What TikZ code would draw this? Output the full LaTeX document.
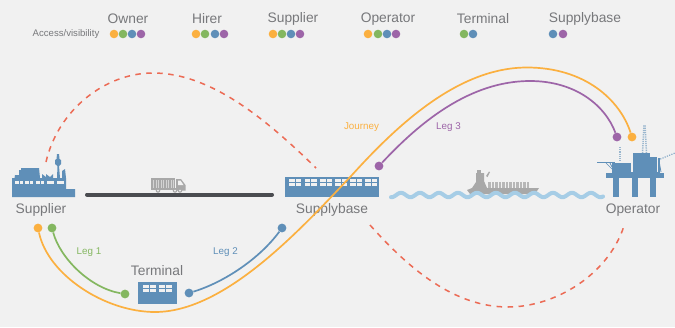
\documentclass[tikz,border=0pt]{standalone}
\usepackage{fontspec}
\setmainfont{Liberation Sans}
\definecolor{bgc}{HTML}{F1F1F1}
\definecolor{oy}{HTML}{FBB040}
\definecolor{gr}{HTML}{84B760}
\definecolor{bl}{HTML}{5F8FB8}
\definecolor{pu}{HTML}{9D65A8}
\definecolor{rd}{HTML}{EC6B55}
\definecolor{txtc}{HTML}{77787B}
\definecolor{road}{HTML}{4A4C50}
\definecolor{shipc}{HTML}{A8A8A8}
\definecolor{wave}{HTML}{A6CDE6}
\begin{document}
\begin{tikzpicture}[x=1pt,y=-1pt,
  dotn/.style={circle,fill=#1,inner sep=0pt,minimum size=8.6pt},
  enddot/.style={circle,fill=#1,inner sep=0pt,minimum size=8.8pt},
  head/.style={text=txtc,font=\fontsize{13.8}{15}\selectfont,inner sep=0pt},
  legl/.style={font=\fontsize{9.8}{11}\selectfont,inner sep=0pt},
  curve/.style={line width=1.7pt},
  reddash/.style={rd,line width=1.5pt,dash pattern=on 5.5pt off 5.5pt},
  iconb/.style={fill=bl,draw=none},
  win/.style={fill=bgc,draw=none},
  greyfill/.style={fill=shipc,draw=none}]
\useasboundingbox (0,0) rectangle (675,327);
\fill[bgc] (0,0) rectangle (675,327);

% legend
\node[head] (hOwner) at (128,19) {Owner};
\node[head] (hHirer) at (207,19) {Hirer};
\node[head] (hSupplier) at (293,19) {Supplier};
\node[head] (hOperator) at (388,19) {Operator};
\node[head] (hTerminal) at (483,19) {Terminal};
\node[head] (hSupplybase) at (585,19) {Supplybase};
\node[text=txtc,font=\fontsize{9.6}{11}\selectfont,inner sep=0pt] (access) at (66,34.5) {Access/visibility};
\foreach \n/\x/\c in {a1/114/oy,a2/123/gr,a3/132/bl,a4/141/pu,
  b1/196/oy,b2/205/gr,b3/215/bl,b4/224/pu,
  c1/273/oy,c2/282/gr,c3/291/bl,c4/300/pu,
  d1/368/oy,d2/378/gr,d3/387/bl,d4/396/pu,
  e1/464/gr,e2/473/bl,
  f1/553/bl,f2/563/pu}
  \node[dotn=\c] (\n) at (\x,34) {};

% road
\coordinate (roadL) at (87,194.5);
\coordinate (roadR) at (272,194.5);
\draw[road,line width=4pt,line cap=round] (roadL) -- (roadR);

% truck
\fill[greyfill] (151,178) rectangle (175,188.5);
\foreach \x in {153,155.5,...,173} \fill[bgc!60!shipc] (\x,179.5) rectangle (\x+1,187.5);
\fill[greyfill] (176,179) -- (181,179) -- (185.5,185) -- (185.5,190.5) -- (176,190.5) -- cycle;
\fill[bgc] (178,180.5) -- (180.5,180.5) -- (183.5,185) -- (178,185) -- cycle;
\fill[greyfill] (151,188) rectangle (176,190);
\foreach \x in {158,175,180} {\fill[shipc] (\x,190.5) circle (2.3pt); \fill[bgc] (\x,190.5) circle (1pt);}

% ship
\fill[greyfill] (467,190) -- (472,188) -- (476,182) -- (476,173) -- (484,173) -- (484,181) -- (487,188) -- (539,188) -- (535,194) -- (470,194) -- cycle;
\fill[greyfill] (477,169.5) rectangle (481,174);
\fill[greyfill] (486,176) -- (489,171.5) -- (490,172) -- (487.5,177) -- cycle;
\foreach \x in {488,491.5,...,527} \fill[shipc!80!bgc] (\x,181.5) rectangle (\x+2.8,188);

% waves
\draw[wave,line width=4pt,line cap=round] plot[domain=391:603,samples=220] (\x,{195-2.2*cos(18.95*(\x-420))});

% Supplier factory
\fill[iconb] (12,178) -- (14.5,178) -- (15,175) -- (19,175) -- (19,170) -- (21,170) -- (21,168) -- (39,168) -- (40,178)
  -- (42,178) -- (42,174) -- (46,177) -- (46,174) -- (50,177) -- (53,174) -- (53,178) -- (57,178) -- (57.5,166) -- (55,164) -- (55,160) -- (56.5,159) -- (57,154) -- (59,154) -- (59.5,159) -- (61,160) -- (61,164) -- (59,166) -- (60,178)
  -- (62,178) -- (62,171) -- (65,169) -- (66,178) -- (66,189) -- (75,189) -- (75,197) -- (12,197) -- cycle;
\foreach \a/\b in {15/18.7,19.5/23,25/28.7,29.5/33,36/39.7,40.5/44,47/54,57/64}
  \fill[win] (\a,180.7) rectangle (\b,184.2);
\node[head] (supplier) at (41,210) {Supplier};

% Supplybase
\fill[iconb] (284.5,176.5) rectangle (379,196.5);
\foreach \x in {289,304.5,320,335,350,365} {
  \fill[win] (\x,179) rectangle (\x+5.5,182);
  \fill[win] (\x+6.5,179) rectangle (\x+12,182);
  \fill[win] (\x,183) rectangle (\x+5.5,186);
  \fill[win] (\x+6.5,183) rectangle (\x+12,186);
}
\node[head] (supplybase) at (332,210) {Supplybase};

% Terminal
\fill[iconb] (138,282) rectangle (177,304);
\foreach \x in {143,159} {
  \fill[win] (\x,285) rectangle (\x+5.7,288);
  \fill[win] (\x+7,285) rectangle (\x+12.7,288);
  \fill[win] (\x,289) rectangle (\x+5.7,292);
  \fill[win] (\x+7,289) rectangle (\x+12.7,292);
}
\node[head] (terminal) at (157,271) {Terminal};

% Rig
\fill[iconb] (606,173) rectangle (664,178);
\foreach \x in {613,632,650} \fill[iconb] (\x,178) rectangle (\x+6,197);
\fill[iconb] (612,163) rectangle (631,173);
\fill[iconb] (633,153) rectangle (650,158);
\fill[iconb] (633,157) rectangle (657,173);
\fill[iconb] (627,172) rectangle (660,174);
\draw[bl,line width=0.8pt] (597,162.5) -- (615,162.5);
\draw[bl,line width=0.7pt] (606,163) -- (612,169) (610,163) -- (612,167);
\draw[bl,line width=2.8pt,dash pattern=on 1.2pt off 1pt,opacity=.6] (620,147) -- (620,162);
\draw[bl,line width=1.5pt,dash pattern=on 1.2pt off 1pt,opacity=.6] (642.5,153) -- (644,125) (646.5,153) -- (645,125);
\draw[bl,line width=1.2pt,dash pattern=on 1.2pt off 1.2pt,opacity=.7] (658,160) -- (675,153);
\draw[bl,line width=1.2pt] (659,158) -- (659,172);
\draw[bl,line width=0.8pt] (659,161) -- (661,172);
\node[head] (operator) at (633,210) {Operator};

% red dashed
\coordinate (rs1) at (46,162); \coordinate (re1) at (316,168);
\coordinate (rs2) at (370,225); \coordinate (re2) at (624,226);
\draw[reddash] (rs1) .. controls (58,110) and (105,73) .. (153,73) .. controls (210,73) and (265,118) .. (re1);
\draw[reddash] (rs2) .. controls (410,270) and (455,307) .. (508,307) .. controls (555,307) and (608,275) .. (re2);

% connector end dots
\node[enddot=oy] (js) at (38,228) {};
\node[enddot=gr] (l1s) at (52,228) {};
\node[enddot=gr] (l1e) at (125,294) {};
\node[enddot=bl] (l2s) at (189,293) {};
\node[enddot=bl] (l2e) at (282,228) {};
\node[enddot=pu] (l3s) at (379,166) {};
\node[enddot=pu] (l3e) at (617,137) {};
\node[enddot=oy] (je) at (632,137) {};

\draw[curve,oy] (js) .. controls (48,275) and (105,312) .. (155,312) .. controls (225,312) and (300,230) .. (352,175)
   .. controls (400,122) and (460,67.5) .. (527,67.5) .. controls (585,67.5) and (620,100) .. (je);
\draw[curve,gr] (l1s) .. controls (60,258) and (90,288) .. (l1e);
\draw[curve,bl] (l2s) .. controls (225,282) and (260,258) .. (l2e);
\draw[curve,pu] (l3s) .. controls (420,122) and (470,81) .. (530,81) .. controls (575,81) and (605,105) .. (l3e);

% labels
\node[legl,text=gr] (leg1) at (89,252) {Leg 1};
\node[legl,text=bl] (leg2) at (225.5,252) {Leg 2};
\node[legl,text=pu] (leg3) at (448.5,127.5) {Leg 3};
\node[legl,text=oy] (journey) at (361.5,127.5) {Journey};
\end{tikzpicture}
\end{document}
